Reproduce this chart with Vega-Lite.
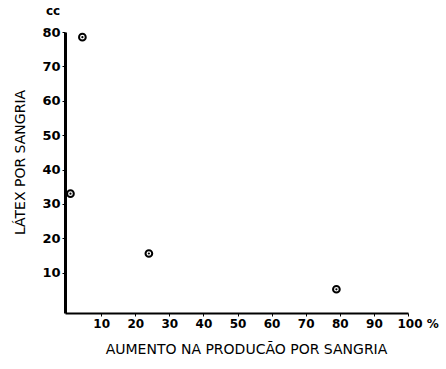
{
  "$schema": "https://vega.github.io/schema/vega-lite/v6.json",
  "autosize": {"type": "none"},
  "width": 343,
  "height": 281,
  "padding": {"left": 65, "top": 32, "right": 38, "bottom": 56},
  "background": "white",
  "config": {"view": {"stroke": null}, "font": "DejaVu Sans"},
  "title": {"text": "cc", "anchor": "start", "frame": "group", "dx": -19, "offset": 8, "fontSize": 12, "fontWeight": "bold", "font": "DejaVu Sans", "color": "black"},
  "data": {"values": [
    {"aumento": 4.5, "latex": 78.5},
    {"aumento": 1, "latex": 33},
    {"aumento": 24, "latex": 15.6},
    {"aumento": 79, "latex": 5.2}
  ]},
  "encoding": {
    "x": {"field": "aumento", "type": "quantitative",
      "scale": {"domain": [-0.6, 100], "nice": false, "zero": false},
      "axis": {"title": "AUMENTO NA PRODUCÃO POR SANGRIA", "values": [10,20,30,40,50,60,70,80,90,100],
        "labelExpr": "datum.value == 100 ? '100 %' : datum.label",
        "labelAlign": {"condition": {"test": "datum.value == 100", "value": "left"}, "value": "center"},
        "labelOffset": {"condition": {"test": "datum.value == 100", "value": -11}, "value": 0},
        "grid": false, "domainColor": "black", "domainWidth": 2, "tickColor": "black", "tickSize": 3,
        "labelFontSize": 12, "labelFontWeight": "bold", "labelColor": "black", "labelPadding": 2, "labelFlush": false,
        "titleFontSize": 14, "titleFontWeight": "normal", "titleColor": "black", "titlePadding": 13, "titleX": 181}},
    "y": {"field": "latex", "type": "quantitative",
      "scale": {"domain": [-1.7, 80], "nice": false, "zero": false},
      "axis": {"title": "LÁTEX POR SANGRIA", "values": [10,20,30,40,50,60,70,80],
        "grid": false, "domainColor": "black", "domainWidth": 3, "tickColor": "black", "tickSize": 3,
        "labelFontSize": 13, "labelFontWeight": "bold", "labelColor": "black", "labelPadding": 2,
        "titleFontSize": 14, "titleFontWeight": "normal", "titleColor": "black", "titlePadding": 14, "titleY": 130}}
  },
  "layer": [
    {"mark": {"type": "point", "shape": "circle", "filled": false, "stroke": "black", "strokeWidth": 2, "size": 45, "opacity": 1}},
    {"mark": {"type": "point", "shape": "circle", "filled": true, "fill": "black", "size": 5, "opacity": 1}}
  ]
}
